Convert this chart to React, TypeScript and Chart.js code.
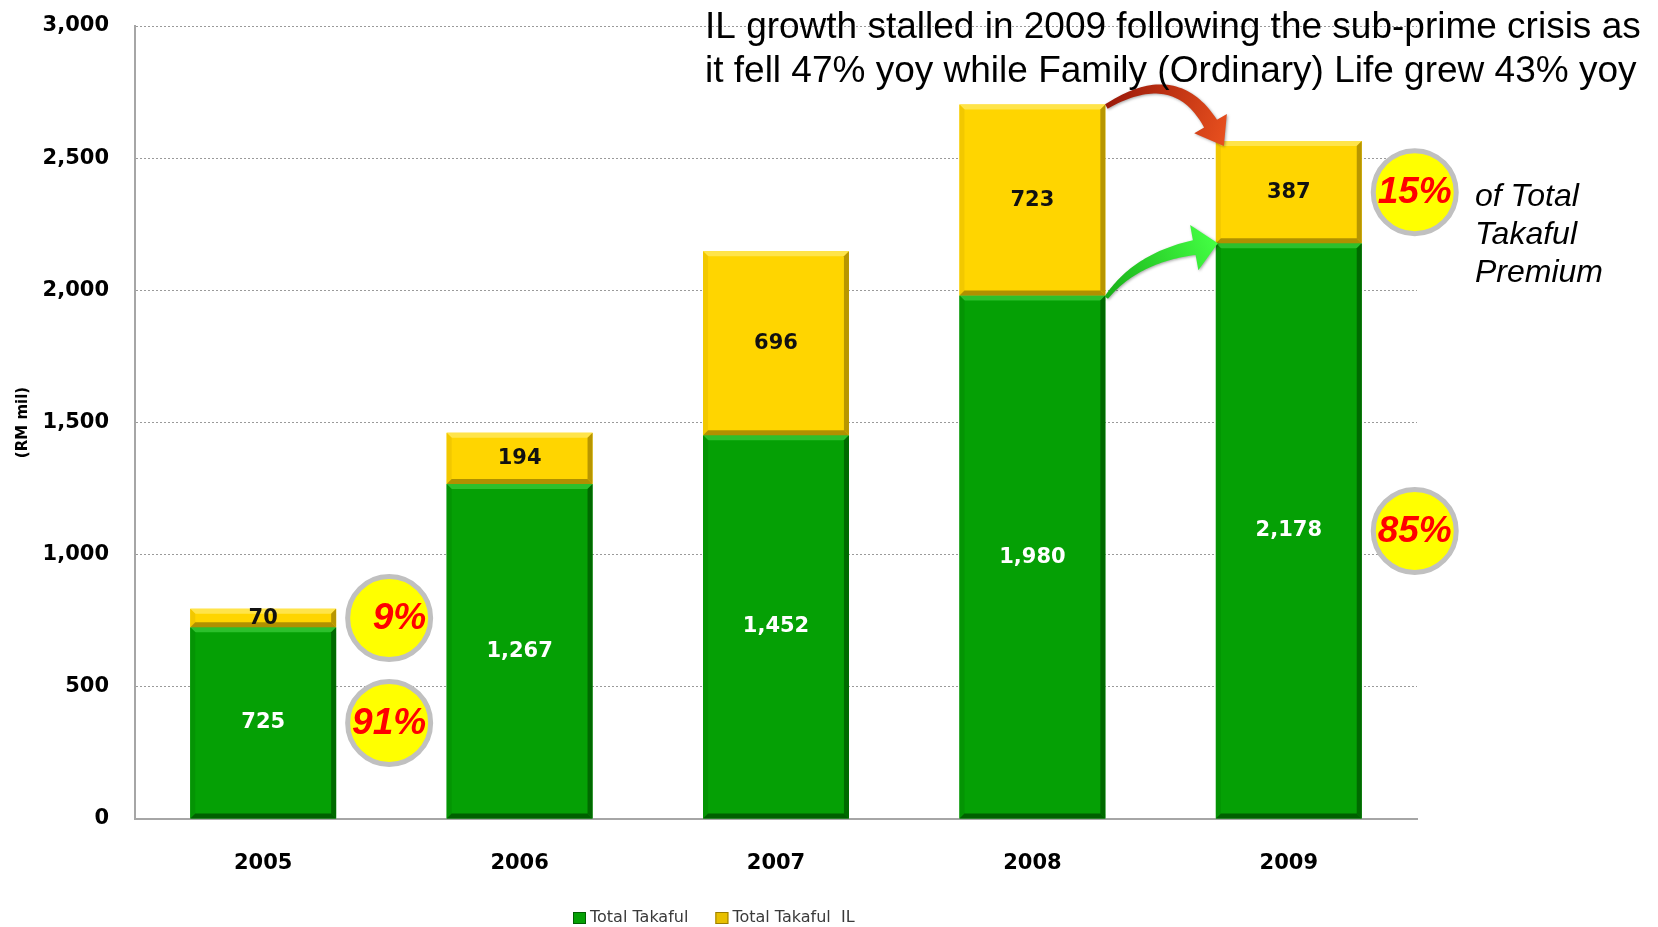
import React, { useEffect, useRef } from 'react';
import { Chart, registerables } from 'chart.js';

Chart.register(...registerables);

const categories = ['2005', '2006', '2007', '2008', '2009'];
const totalTakaful = [725, 1267, 1452, 1980, 2178];
const totalTakafulIL = [70, 194, 696, 723, 387];
const seriesNames = ['Total Takaful', 'Total Takaful  IL'];
const yMin = 0;
const yMax = 3000;
const yStep = 500;
const yAxisTitle = '(RM mil)';
const titleLines = [
  'IL growth stalled in 2009 following the sub-prime crisis as',
  'it fell 47% yoy while Family (Ordinary) Life grew 43% yoy',
];
const noteLines = ['of Total', 'Takaful', 'Premium'];
const shareCategories = ['2005', '2009'];
const shareIL = ['9%', '15%'];
const shareTakaful = ['91%', '85%'];

const GREEN = '#05a005';
const YELLOW = '#ffd500';
const bevels = [
  { top: '#2cc02c', left: '#049404', right: '#006a00', bottom: '#006000' },
  { top: '#ffe44a', left: '#f2c800', right: '#b89600', bottom: '#b09000' },
];

function drawTaperedArrow(
  ctx: CanvasRenderingContext2D,
  p0: number[], c: number[], tip: number[],
  headLen: number, headHalf: number, w0: number, w1: number,
  col0: string, col1: string
) {
  let dx = tip[0] - c[0], dy = tip[1] - c[1];
  const dl = Math.hypot(dx, dy);
  dx /= dl; dy /= dl;
  const p1 = [tip[0] - dx * headLen, tip[1] - dy * headLen];
  const left: number[][] = [];
  const right: number[][] = [];
  const N = 40;
  for (let i = 0; i <= N; i++) {
    const t = i / N;
    const bx = (1 - t) * (1 - t) * p0[0] + 2 * (1 - t) * t * c[0] + t * t * p1[0];
    const by = (1 - t) * (1 - t) * p0[1] + 2 * (1 - t) * t * c[1] + t * t * p1[1];
    let tx = 2 * (1 - t) * (c[0] - p0[0]) + 2 * t * (p1[0] - c[0]);
    let ty = 2 * (1 - t) * (c[1] - p0[1]) + 2 * t * (p1[1] - c[1]);
    const tl = Math.hypot(tx, ty) || 1;
    tx /= tl; ty /= tl;
    const nx = -ty, ny = tx;
    const w = (w0 + (w1 - w0) * t) / 2;
    left.push([bx + nx * w, by + ny * w]);
    right.push([bx - nx * w, by - ny * w]);
  }
  const nx = -dy, ny = dx;
  ctx.save();
  const g = ctx.createLinearGradient(p0[0], p0[1], tip[0], tip[1]);
  g.addColorStop(0, col0);
  g.addColorStop(1, col1);
  ctx.fillStyle = g;
  ctx.shadowColor = 'rgba(0,0,0,0.35)';
  ctx.shadowBlur = 3;
  ctx.shadowOffsetX = 1;
  ctx.shadowOffsetY = 1;
  ctx.beginPath();
  ctx.moveTo(left[0][0], left[0][1]);
  for (const p of left) ctx.lineTo(p[0], p[1]);
  ctx.lineTo(p1[0] + nx * headHalf, p1[1] + ny * headHalf);
  ctx.lineTo(tip[0], tip[1]);
  ctx.lineTo(p1[0] - nx * headHalf, p1[1] - ny * headHalf);
  for (let i = right.length - 1; i >= 0; i--) ctx.lineTo(right[i][0], right[i][1]);
  ctx.closePath();
  ctx.fill();
  ctx.restore();
}

const barDecorPlugin = {
  id: 'barDecor',
  afterDatasetsDraw(chart: any) {
    const ctx: CanvasRenderingContext2D = chart.ctx;
    ctx.save();
    chart.data.datasets.forEach((ds: any, di: number) => {
      const meta = chart.getDatasetMeta(di);
      const bv = bevels[di];
      meta.data.forEach((el: any, i: number) => {
        const { x, y, base, width } = el.getProps(['x', 'y', 'base', 'width'], true);
        const l = x - width / 2, r = x + width / 2;
        const t = Math.min(y, base), b = Math.max(y, base);
        const s = Math.min(5, (b - t) / 3);
        const poly = (pts: number[][], col: string) => {
          ctx.fillStyle = col;
          ctx.beginPath();
          ctx.moveTo(pts[0][0], pts[0][1]);
          for (let k = 1; k < pts.length; k++) ctx.lineTo(pts[k][0], pts[k][1]);
          ctx.closePath();
          ctx.fill();
        };
        poly([[l, t], [r, t], [r - s, t + s], [l + s, t + s]], bv.top);
        poly([[l, t], [l + s, t + s], [l + s, b - s], [l, b]], bv.left);
        poly([[r, t], [r, b], [r - s, b - s], [r - s, t + s]], bv.right);
        poly([[l, b], [r, b], [r - s, b - s], [l + s, b - s]], bv.bottom);
        const v = ds.data[i];
        ctx.font = 'bold 21px "DejaVu Sans"';
        ctx.textAlign = 'center';
        ctx.textBaseline = 'middle';
        ctx.fillStyle = di === 0 ? '#ffffff' : '#111111';
        ctx.fillText(v.toLocaleString('en-US'), x, (t + b) / 2);
      });
    });
    ctx.restore();
  },
  afterDraw(chart: any) {
    const ctx: CanvasRenderingContext2D = chart.ctx;
    const m0 = chart.getDatasetMeta(0);
    const m1 = chart.getDatasetMeta(1);
    ctx.save();

    const a = m0.data[3].getProps(['x', 'y', 'base', 'width'], true);
    const aIL = m1.data[3].getProps(['x', 'y', 'base', 'width'], true);
    const bT = m0.data[4].getProps(['x', 'y', 'base', 'width'], true);
    const bIL = m1.data[4].getProps(['x', 'y', 'base', 'width'], true);
    const ar = a.x + a.width / 2;
    const bl = bT.x - bT.width / 2;
    drawTaperedArrow(ctx, [ar + 1, aIL.y + 2], [ar + 70, aIL.y - 40], [bl + 8, bIL.y + 5],
      26, 19, 5, 15, '#9c1a0a', '#e8501e');
    drawTaperedArrow(ctx, [ar + 1, a.y + 2], [ar + 30, bT.y + 15], [bl + 2, bT.y],
      24, 23, 4, 15, '#18b018', '#44ff44');

    shareCategories.forEach((cat, k) => {
      const i = categories.indexOf(cat);
      const g = m0.data[i].getProps(['x', 'y', 'base', 'width'], true);
      const yl = m1.data[i].getProps(['x', 'y', 'base', 'width'], true);
      const cx = g.x + g.width / 2 + 53;
      const items = [
        { cy: (yl.y + yl.base) / 2, txt: shareIL[k] },
        { cy: (g.y + g.base) / 2, txt: shareTakaful[k] },
      ];
      items.forEach((it) => {
        ctx.beginPath();
        ctx.arc(cx, it.cy, 41.5, 0, Math.PI * 2);
        ctx.fillStyle = '#ffff00';
        ctx.fill();
        ctx.lineWidth = 5;
        ctx.strokeStyle = '#c0c0c0';
        ctx.stroke();
        ctx.font = 'italic bold 37px "Liberation Sans"';
        ctx.fillStyle = '#ff0000';
        ctx.textAlign = 'right';
        ctx.textBaseline = 'middle';
        ctx.fillText(it.txt, cx + 37, it.cy + 1);
      });
    });

    ctx.font = '37px "Liberation Sans"';
    ctx.fillStyle = '#000';
    ctx.textAlign = 'left';
    ctx.textBaseline = 'alphabetic';
    ctx.fillText(titleLines[0], 705, 38);
    ctx.fillText(titleLines[1], 705, 82);

    ctx.font = 'italic 32px "Liberation Sans"';
    const noteY = [206, 244, 282];
    noteLines.forEach((s, k) => ctx.fillText(s, 1475, noteY[k]));

    ctx.font = '16px "DejaVu Sans"';
    ctx.textBaseline = 'middle';
    let lx = 573;
    const ly = 918;
    const cols = [GREEN, '#e8c000'];
    const edge = ['#006000', '#9c7e00'];
    seriesNames.forEach((name, k) => {
      ctx.fillStyle = cols[k];
      ctx.fillRect(lx, ly - 6, 13, 12);
      ctx.strokeStyle = edge[k];
      ctx.lineWidth = 1;
      ctx.strokeRect(lx + 0.5, ly - 5.5, 12, 11);
      ctx.fillStyle = '#3a3a3a';
      ctx.fillText(name, lx + 17, ly);
      lx = lx + 17 + ctx.measureText(name).width + 27;
    });

    ctx.restore();
  },
};

export default function App() {
  const ref = useRef<HTMLCanvasElement | null>(null);
  useEffect(() => {
    if (!ref.current) return;
    const chart = new Chart(ref.current, {
      type: 'bar',
      data: {
        labels: categories,
        datasets: [
          { label: seriesNames[0], data: totalTakaful, backgroundColor: GREEN, borderWidth: 0 },
          { label: seriesNames[1], data: totalTakafulIL, backgroundColor: YELLOW, borderWidth: 0 },
        ],
      },
      options: {
        responsive: false,
        animation: false,
        devicePixelRatio: 1,
        layout: { padding: { top: 26, right: 241, bottom: 0, left: 0 } },
        datasets: { bar: { categoryPercentage: 1, barPercentage: 0.569 } },
        plugins: {
          legend: { display: false },
          tooltip: { enabled: false },
          title: { display: false },
        },
        scales: {
          x: {
            stacked: true,
            grid: { display: false, drawTicks: false },
            border: { display: true, color: '#a6a6a6', width: 2 },
            ticks: {
              color: '#000',
              padding: 32,
              font: { family: 'DejaVu Sans', size: 21, weight: 'bold' },
            },
            afterFit(scale: any) { scale.height = 108; },
          },
          y: {
            stacked: true,
            min: yMin,
            max: yMax,
            grid: { color: '#9a9a9a', lineWidth: 1, drawTicks: false },
            border: { display: true, color: '#a6a6a6', width: 2, dash: [2, 2] },
            ticks: {
              stepSize: yStep,
              color: '#000',
              padding: 26,
              font: { family: 'DejaVu Sans', size: 21, weight: 'bold' },
              callback: (v: any) => Number(v).toLocaleString('en-US'),
            },
            title: {
              display: true,
              text: yAxisTitle,
              color: '#000',
              font: { family: 'DejaVu Sans', size: 15, weight: 'bold' },
              padding: { top: 14, bottom: 0 },
            },
            afterFit(scale: any) {
              scale.width = 135;
              scale.paddingTop = 0;
              scale.paddingBottom = 0;
            },
          },
        },
      },
      plugins: [barDecorPlugin],
    } as any);
    return () => chart.destroy();
  }, []);
  return (
    <div style={{ position: 'fixed', left: 0, top: 0, width: 1658, height: 927, background: '#fff' }}>
      <canvas ref={ref} width={1658} height={927} />
    </div>
  );
}
